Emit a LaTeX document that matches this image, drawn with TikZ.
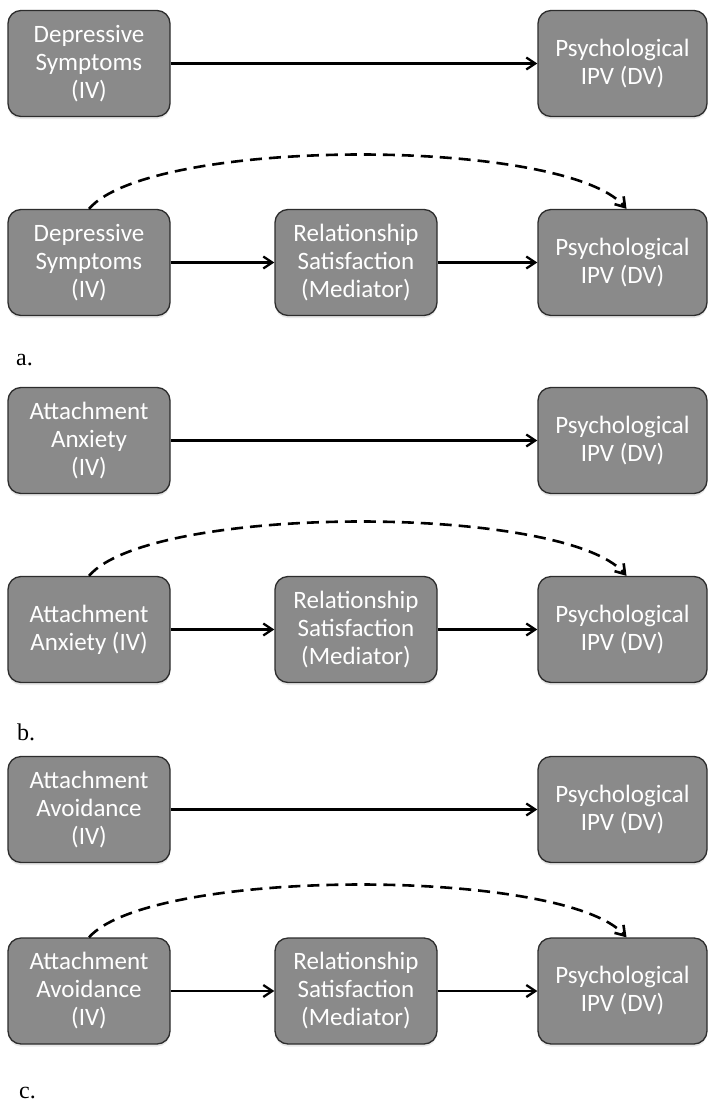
\documentclass[tikz,border=0pt]{standalone}
\usepackage{fontspec}
\setmainfont{Carlito}
\newfontfamily\labelfont{Liberation Serif}
\usetikzlibrary{arrows.meta,shadows}
\definecolor{boxfill}{RGB}{138,138,138}
\definecolor{boxdraw}{RGB}{45,45,45}
\begin{document}
\begin{tikzpicture}[x=1pt,y=-1pt,
  varbox/.style={draw=boxdraw, line width=1.3pt, fill=boxfill, rounded corners=13pt,
    minimum width=162pt, minimum height=106pt, align=center, text=white,
    font=\fontsize{25}{28}\selectfont, inner sep=0pt,
    drop shadow={opacity=0.18, shadow xshift=0pt, shadow yshift=-2.5pt}},
  dvbox/.style={varbox, minimum width=169pt},
  link/.style={line width=2.3pt, draw=black, -{Straight Barb[length=9pt,width=12pt]}},
  indirect/.style={link, line width=2.6pt, dash pattern=on 12pt off 7pt},
  panel/.style={font=\labelfont\fontsize{24}{28}\selectfont, anchor=west, inner sep=0pt}]
\useasboundingbox (0,0) rectangle (709,1103);
\fill[white] (0,0) rectangle (709,1103);

% ---- a ----
\node[varbox] (a1L) at (89,63.5) {Depressive\\Symptoms\\(IV)};
\node[dvbox]  (a1R) at (622.5,63.5) {Psychological\\IPV (DV)};
\draw[link] (a1L) -- (a1R);
\node[varbox] (a2L) at (89,262.5) {Depressive\\Symptoms\\(IV)};
\node[varbox] (a2M) at (356,262.5) {Relationship\\Satisfaction\\(Mediator)};
\node[dvbox]  (a2R) at (622.5,262.5) {Psychological\\IPV (DV)};
\draw[link] (a2L) -- (a2M);
\draw[link] (a2M) -- (a2R);
\draw[indirect] (a2L.north) .. controls +(62,-72) and +(-62,-72) .. ([xshift=4pt]a2R.north);
\node[panel] (la) at (16,360) {a.};

% ---- b ----
\node[varbox] (b1L) at (89,440.5) {Attachment\\Anxiety\\(IV)};
\node[dvbox]  (b1R) at (622.5,440.5) {Psychological\\IPV (DV)};
\draw[link] (b1L) -- (b1R);
\node[varbox] (b2L) at (89,629.5) {Attachment\\Anxiety (IV)};
\node[varbox] (b2M) at (356,629.5) {Relationship\\Satisfaction\\(Mediator)};
\node[dvbox]  (b2R) at (622.5,629.5) {Psychological\\IPV (DV)};
\draw[link] (b2L) -- (b2M);
\draw[link] (b2M) -- (b2R);
\draw[indirect] (b2L.north) .. controls +(62,-72) and +(-62,-72) .. ([xshift=4pt]b2R.north);
\node[panel] (lb) at (17,732) {b.};

% ---- c ----
\node[varbox] (c1L) at (89,809.5) {Attachment\\Avoidance\\(IV)};
\node[dvbox]  (c1R) at (622.5,809.5) {Psychological\\IPV (DV)};
\draw[link] (c1L) -- (c1R);
\node[varbox] (c2L) at (89,991) {Attachment\\Avoidance\\(IV)};
\node[varbox] (c2M) at (356,991) {Relationship\\Satisfaction\\(Mediator)};
\node[dvbox]  (c2R) at (622.5,991) {Psychological\\IPV (DV)};
\draw[link] (c2L) -- (c2M);
\draw[link] (c2M) -- (c2R);
\draw[indirect] (c2L.north) .. controls +(62,-70) and +(-62,-70) .. ([xshift=4pt]c2R.north);
\node[panel] (lc) at (19,1093) {c.};
\end{tikzpicture}
\end{document}
